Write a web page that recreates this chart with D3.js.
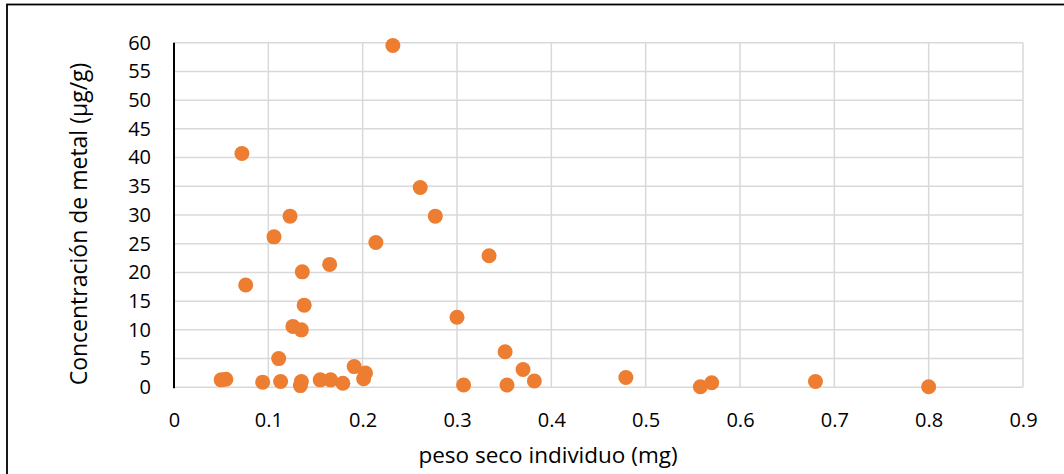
<!DOCTYPE html>
<html>
<head>
<meta charset="utf-8">
<script src="https://cdn.jsdelivr.net/npm/d3@7"></script>
<style>
  html, body { margin: 0; padding: 0; background: #fff; }
  svg { display: block; }
  text { font-family: "Open Sans", sans-serif; fill: #000; }
</style>
</head>
<body>
<svg id="chart" width="1064" height="474"></svg>
<script>
// Data: peso seco individuo (mg) vs Concentración de metal (µg/g)
const pesoSeco = [
  0.232, 0.072, 0.261, 0.277, 0.123, 0.106, 0.214, 0.334, 0.165, 0.136,
  0.076, 0.138, 0.300, 0.126, 0.135, 0.111, 0.351, 0.370, 0.191, 0.203,
  0.201, 0.050, 0.055, 0.094, 0.113, 0.134, 0.135, 0.155, 0.166, 0.179,
  0.307, 0.353, 0.382, 0.479, 0.558, 0.570, 0.680, 0.800
];
const concentracion = [
  59.5, 40.7, 34.8, 29.8, 29.8, 26.2, 25.2, 22.9, 21.4, 20.1,
  17.8, 14.3, 12.2, 10.6, 10.0, 5.0, 6.2, 3.1, 3.6, 2.5,
  1.5, 1.3, 1.4, 0.9, 1.0, 0.3, 1.0, 1.3, 1.3, 0.7,
  0.4, 0.4, 1.1, 1.7, 0.1, 0.8, 1.0, 0.1
];
const xTicks = [0, 0.1, 0.2, 0.3, 0.4, 0.5, 0.6, 0.7, 0.8, 0.9];
const yTicks = [0, 5, 10, 15, 20, 25, 30, 35, 40, 45, 50, 55, 60];
const xTitle = "peso seco individuo (mg)";
const yTitle = "Concentración de metal (µg/g)";

const svg = d3.select("#chart");
const plot = { left: 174, right: 1023, top: 42.7, bottom: 387.3 };

const x = d3.scaleLinear().domain([0, 0.9]).range([plot.left, plot.right]);
const y = d3.scaleLinear().domain([0, 60]).range([plot.bottom, plot.top]);

// outer chart border (partly clipped at right/bottom)
svg.append("rect")
  .attr("x", 7).attr("y", 4.5)
  .attr("width", 1064).attr("height", 480)
  .attr("fill", "none").attr("stroke", "#000").attr("stroke-width", 1.8);

// horizontal gridlines
svg.append("g")
  .selectAll("line").data(yTicks).join("line")
  .attr("x1", plot.left).attr("x2", plot.right)
  .attr("y1", d => y(d)).attr("y2", d => y(d))
  .attr("stroke", "#d9d9d9").attr("stroke-width", 1.5);

// vertical gridlines
svg.append("g")
  .selectAll("line").data(xTicks.slice(1)).join("line")
  .attr("x1", d => x(d)).attr("x2", d => x(d))
  .attr("y1", plot.top).attr("y2", plot.bottom)
  .attr("stroke", "#d9d9d9").attr("stroke-width", 1.5);

// y axis line (black)
svg.append("line")
  .attr("x1", plot.left).attr("x2", plot.left)
  .attr("y1", plot.top).attr("y2", plot.bottom + 1)
  .attr("stroke", "#000").attr("stroke-width", 2);

// y tick labels
const yAxis = d3.axisLeft(y).tickValues(yTicks).tickSize(0).tickPadding(23).tickFormat(d3.format("d"));
const gy = svg.append("g").attr("transform", `translate(${plot.left},0)`).call(yAxis);
gy.select(".domain").remove();
gy.selectAll("text").style("font-family", "'Open Sans', sans-serif").style("font-size", "20px").attr("fill", "#000");

// x tick labels
const xAxis = d3.axisBottom(x).tickValues(xTicks).tickSize(0).tickPadding(26)
  .tickFormat(d => d === 0 ? "0" : d3.format(".1f")(d));
const gx = svg.append("g").attr("transform", `translate(0,${plot.bottom})`).call(xAxis);
gx.select(".domain").remove();
gx.selectAll("text").style("font-family", "'Open Sans', sans-serif").style("font-size", "20px").attr("fill", "#000");

// points
svg.append("g")
  .selectAll("circle").data(pesoSeco.map((v, i) => [v, concentracion[i]])).join("circle")
  .attr("cx", d => x(d[0])).attr("cy", d => y(d[1]))
  .attr("r", 7.5).attr("fill", "#ed7d31");

// axis titles
svg.append("text")
  .attr("x", 548).attr("y", 463)
  .attr("text-anchor", "middle").style("font-size", "22.5px")
  .text(xTitle);

svg.append("text")
  .attr("transform", `translate(87,224) rotate(-90)`)
  .attr("text-anchor", "middle").style("font-size", "23px")
  .text(yTitle);
</script>
</body>
</html>
